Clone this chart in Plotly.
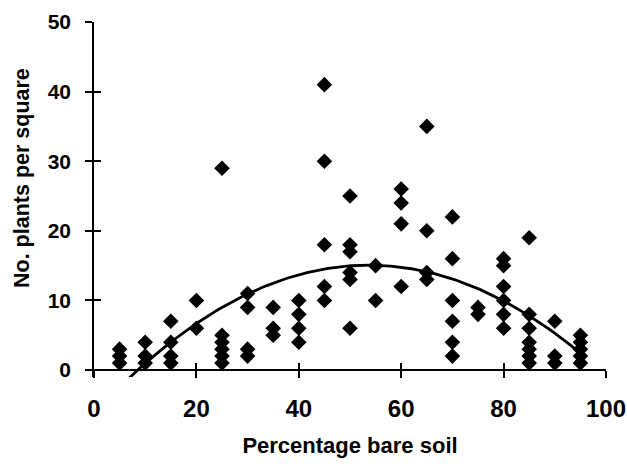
import numpy as np
import plotly.graph_objects as go

# Data (percentage bare soil, no. plants per square)
bare_soil = (
    [5] * 3 + [10] * 3 + [15] * 4 + [20] * 2 + [25] * 6 + [30] * 4 + [35] * 3 +
    [40] * 4 + [45] * 5 + [50] * 6 + [55] * 2 + [60] * 4 + [65] * 4 + [70] * 6 +
    [75] * 2 + [80] * 6 + [85] * 7 + [90] * 3 + [95] * 5
)
plants = (
    [3, 2, 1] +
    [4, 2, 1] +
    [7, 4, 2, 1] +
    [10, 6] +
    [29, 5, 4, 3, 2, 1] +
    [11, 9, 3, 2] +
    [9, 6, 5] +
    [10, 8, 6, 4] +
    [41, 30, 18, 12, 10] +
    [25, 18, 17, 14, 13, 6] +
    [15, 10] +
    [26, 24, 21, 12] +
    [35, 20, 14, 13] +
    [22, 16, 10, 7, 4, 2] +
    [9, 8] +
    [16, 15, 12, 10, 8, 6] +
    [19, 8, 6, 4, 3, 2, 1] +
    [7, 2, 1] +
    [5, 4, 3, 2, 1]
)

x_ticks = [0, 20, 40, 60, 80, 100]
y_ticks = [0, 10, 20, 30, 40, 50]
x_title = "Percentage bare soil"
y_title = "No. plants per square"

# Polynomial (order 2) trendline fitted to the data
coef = np.polyfit(bare_soil, plants, 2)
xs = np.linspace(min(bare_soil), max(bare_soil), 200)
ys = np.polyval(coef, xs)

Y_MIN, Y_MAX = -1.0, 50.0
x_pos = (0 - Y_MIN) / (Y_MAX - Y_MIN)

FAM = "Liberation Sans, Arial, sans-serif"
font_xtick = dict(family=FAM, size=24, color="black", weight="bold")
font_ytick = dict(family=FAM, size=21, color="black", weight="bold")
font_xtitle = dict(family=FAM, size=22, color="black", weight="bold")
font_ytitle = dict(family=FAM, size=21.5, color="black", weight="bold")

fig = go.Figure()
fig.add_trace(go.Scatter(x=xs, y=ys, mode="lines",
                         line=dict(color="black", width=2.8), hoverinfo="skip",
                         showlegend=False))
fig.add_trace(go.Scatter(x=bare_soil, y=plants, mode="markers",
                         marker=dict(symbol="diamond", size=12, color="black"),
                         showlegend=False))
# invisible trace on overlay axes (for crossing tick marks)
fig.add_trace(go.Scatter(x=[None], y=[None], xaxis="x2", yaxis="y2",
                         showlegend=False, hoverinfo="skip"))

common_x = dict(range=[0, 100], tickvals=x_ticks, showgrid=False, zeroline=False,
                anchor="free", position=x_pos, tickcolor="black", tickwidth=1.5, ticklen=7,
                automargin=False)
common_y = dict(range=[Y_MIN, Y_MAX], tickvals=y_ticks, showgrid=False, zeroline=False,
                tickcolor="black", tickwidth=1.5, ticklen=7, automargin=False)

fig.update_layout(
    width=627, height=464,
    margin=dict(l=94, r=21, t=22, b=87),
    paper_bgcolor="white", plot_bgcolor="white",
    xaxis=dict(**common_x, ticks="outside", showline=True, linecolor="black", linewidth=1.5,
               tickfont=font_xtick, ticklabelstandoff=10,
               title=dict(text=x_title, font=font_xtitle, standoff=16)),
    xaxis2=dict(**common_x, overlaying="x", ticks="inside", showticklabels=False, showline=False),
    yaxis=dict(**common_y, ticks="outside", showline=True, linecolor="black", linewidth=1.5,
               tickfont=font_ytick, ticklabelstandoff=10, anchor="x"),
    yaxis2=dict(**common_y, overlaying="y", ticks="inside", showticklabels=False, showline=False,
                anchor="x"),
    annotations=[dict(text=y_title, font=font_ytitle, textangle=-90, showarrow=False,
                      xref="paper", yref="paper", x=-0.141, y=0.56,
                      xanchor="center", yanchor="middle")],
)

fig.write_html("out.html", config={"displayModeBar": False},
               post_script="document.body.style.margin='0';")
